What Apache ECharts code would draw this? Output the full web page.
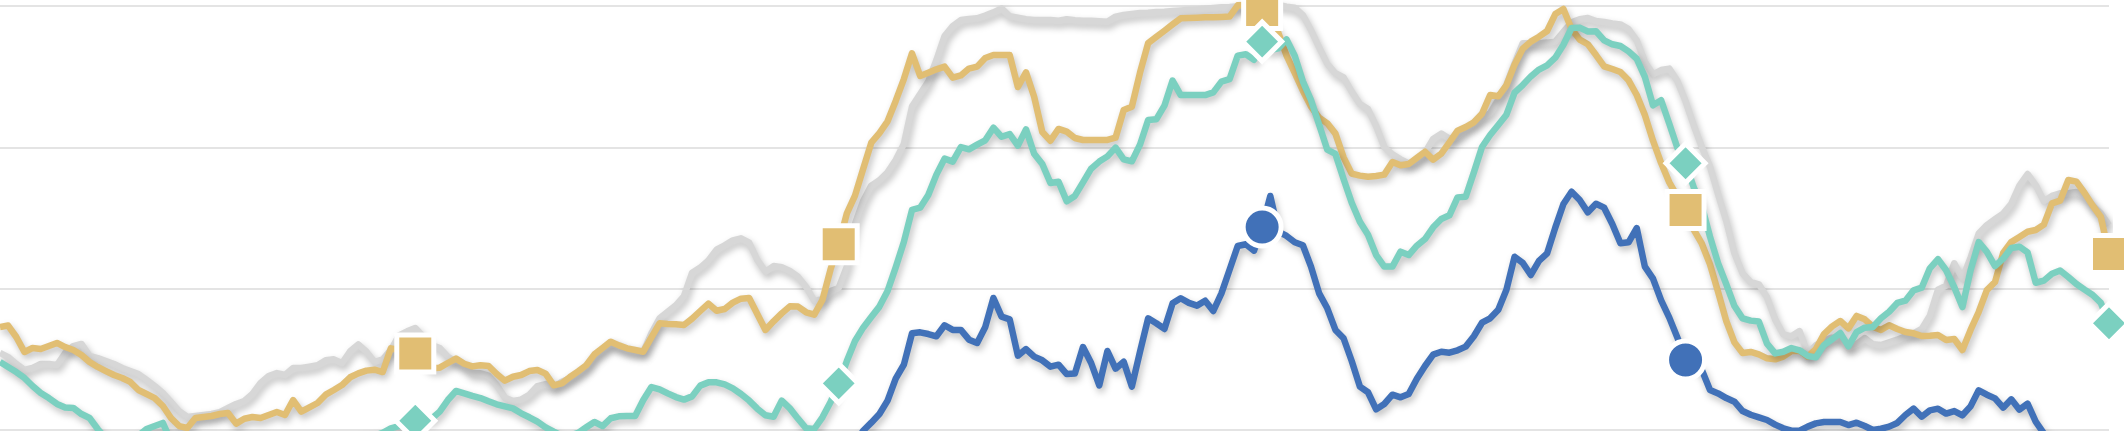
<!DOCTYPE html>
<html>
<head>
<meta charset="utf-8">
<script src="https://cdn.jsdelivr.net/npm/echarts@6/dist/echarts.min.js"></script>
<style>
html,body{margin:0;padding:0;background:#fff;}
#chart{width:2124px;height:431px;}
</style>
</head>
<body>
<div id="chart"></div>
<script>
// 260 weekly periods; markers once every 52 weeks
var categories = [];
for (var k = 0; k < 260; k++) { categories.push('W' + (k + 1)); }
var markerIdx = [51, 103, 155, 207, 259];
var yTicks = [0, 100, 200, 300];

var grey = [54.5,51.6,46.7,42.5,43.9,46.7,46.7,46.0,54.5,59.4,60.9,52.4,50.9,48.8,46.7,43.9,41.7,39.6,35.4,31.1,
26.2,19.8,13.4,9.2,9.9,10.6,11.3,12.7,15.6,18.4,20.5,25.5,33.3,38.2,40.3,38.9,43.9,43.9,44.8,45.8,
49.3,50.0,47.2,55.7,60.6,55.4,48.1,50.0,56.6,67.0,69.8,72.2,66.0,60.1,58.0,51.9,48.3,45.3,40.1,40.1,
38.4,31.8,22.9,20.5,21.5,25.0,31.1,32.5,30.2,34.2,36.6,40.1,44.8,52.4,56.6,61.3,59.0,56.6,55.4,55.4,
68.4,79.0,83.7,88.2,94.8,111.3,114.9,120.0,127.6,130.7,134.2,135.6,132.5,120.3,112.0,116.0,115.1,112.5,108.5,101.2,
91.3,92.5,98.3,100.5,115.6,145.8,162.0,172.9,176.7,182.3,191.0,202.4,228.8,237.7,246.5,261.8,278.8,285.8,290.1,290.8,
291.3,293.2,295.5,298.3,292.7,291.7,290.6,290.1,290.1,290.1,289.6,290.6,289.9,289.6,289.6,289.2,288.9,292.5,293.6,294.3,
295.0,295.3,295.8,296.0,296.5,296.9,297.4,297.6,298.1,298.6,299.1,299.3,299.8,300.0,300.2,300.5,300.7,300.7,299.5,298.8,
293.6,283.0,270.8,259.0,252.4,249.5,239.4,230.7,227.1,215.1,200.2,195.0,191.5,188.7,190.3,196.2,205.9,209.7,206.1,207.5,
213.2,216.7,221.2,224.1,233.7,244.1,259.4,273.6,273.6,273.6,274.1,274.8,281.8,288.4,290.6,291.5,289.4,288.7,287.7,287.0,
283.7,275.7,260.6,251.7,254.7,255.7,246.9,232.5,215.6,200.2,186.3,166.7,147.9,125.0,110.8,104.7,103.1,93.9,78.3,67.7,
66.3,70.0,54.2,59.9,63.4,65.3,64.9,58.0,60.8,65.1,60.6,60.1,62.0,63.9,66.3,68.4,71.5,80.9,99.3,102.1,
118.0,107.0,122.0,139.0,145.0,149.1,153.1,160.1,172.9,181.1,173.3,161.8,165.6,167.5,167.5,168.4,165.1,158.7,153.3,145.0];

var gold = [72.9,73.9,65.8,55.2,58.0,57.3,59.4,61.6,58.7,56.6,53.1,48.1,44.6,41.7,38.9,36.8,34.0,28.3,25.5,22.6,
17.0,8.5,2.8,1.4,8.5,9.2,9.9,11.3,12.0,4.5,8.0,9.2,8.5,10.6,12.7,10.6,21.2,13.0,16.0,19.1,
25.0,28.3,31.8,37.3,40.1,42.0,42.7,41.0,57.8,56.6,55.2,54.2,48.3,43.6,44.1,47.4,50.5,46.9,45.0,45.8,
45.3,39.6,34.9,37.7,38.9,41.7,42.5,39.9,31.6,33.0,37.5,41.5,45.8,53.5,58.0,62.5,59.9,57.8,56.6,55.4,
65.6,75.5,75.0,74.8,74.3,78.8,84.2,89.4,84.4,85.6,90.1,92.9,93.4,82.1,70.8,76.9,82.5,87.5,87.3,83.3,
81.6,92.0,113.7,131.4,153.3,165.8,184.7,203.3,210.1,218.4,232.8,248.3,266.5,250.5,252.8,255.2,257.1,249.3,250.9,255.7,
257.1,263.2,265.3,265.3,265.3,242.7,253.1,235.8,210.8,204.7,213.0,211.1,206.6,205.2,205.2,205.2,205.2,206.8,226.4,228.8,
252.8,273.8,278.1,282.5,287.0,291.3,291.5,291.7,292.0,292.0,292.2,292.5,300.5,300.7,299.1,297.2,290.1,280.9,264.9,252.6,
240.1,228.8,221.0,217.0,209.7,192.9,181.4,180.0,179.2,179.7,180.7,189.6,187.3,188.2,192.5,196.9,191.3,195.5,203.5,211.8,
214.4,217.7,223.8,237.0,236.1,243.9,258.5,269.8,274.8,278.3,282.3,294.3,297.9,283.7,276.2,272.9,265.3,257.3,255.4,253.3,
247.4,237.0,222.9,204.7,188.9,175.2,165.1,155.7,141.7,131.8,117.2,97.6,77.1,62.0,54.5,55.2,53.5,50.7,50.0,51.9,
55.9,56.1,51.9,57.3,67.9,73.3,77.1,71.9,80.7,78.3,73.1,70.8,74.1,71.5,69.3,68.4,66.5,66.7,67.2,63.7,
64.4,56.6,70.8,83.5,99.0,104.7,125.2,133.0,136.6,140.3,141.5,145.3,160.4,162.3,176.9,175.7,167.7,158.7,150.7,124.5];

var teal = [48.1,44.6,41.0,36.8,31.1,26.2,22.6,18.4,15.9,15.6,11.3,8.5,0.7,-6,-10,-12,-9,-4,0.7,2.8,
5.0,-8,-12,-15,-18,-17,-16,-15,-16,-18,-20,-19,-17,-16,-15,-14,-12,-10,-11,-9,
-8,-7,-6,-7,-5,-4,-4,-2,1.2,2.8,4.7,6.6,7.5,8.0,13.0,21.2,27.6,25.9,24.1,22.6,
20.3,18.2,16.7,15.3,11.8,9.0,5.9,1.9,-1.2,-4,-4,-2,1.9,5.7,2.8,8.3,9.7,9.9,9.9,21.2,
30.4,28.8,25.9,23.3,21.5,23.8,31.4,33.7,33.7,32.3,29.5,25.5,20.8,15.1,10.4,9.4,20.8,15.3,8.0,1.2,
0.7,9.0,19.8,33.0,48.8,63.0,72.4,80.0,87.3,98.3,115.1,133.0,155.7,157.3,166.3,180.7,192.0,189.9,200.2,198.6,
201.9,205.0,213.9,207.5,209.4,201.2,212.7,195.5,188.2,174.8,175.7,161.8,165.6,175.2,184.9,189.9,193.6,199.8,191.5,190.1,
201.9,219.3,219.8,229.5,247.2,237.0,237.0,237.0,237.0,238.9,246.5,248.3,264.9,265.8,262.0,274.8,268.9,270.0,276.4,264.9,
246.7,233.5,216.0,198.3,195.3,177.6,160.8,147.4,138.2,123.8,115.6,115.6,126.2,123.8,130.4,135.1,143.4,149.3,151.9,164.6,
165.1,182.3,200.2,208.7,215.8,223.1,238.7,244.1,250.2,255.0,258.0,263.4,272.6,284.4,284.7,282.0,282.1,275.7,272.9,271.7,
267.9,262.7,249.8,229.7,233.3,216.7,199.5,188.7,171.7,158.5,136.8,117.9,103.1,87.7,79.0,77.4,76.7,61.1,54.2,55.4,
58.0,56.4,52.4,51.4,60.1,64.2,68.6,59.2,69.3,72.4,72.9,79.0,83.7,89.9,91.5,98.8,100.7,114.4,120.8,113.0,
101.0,87.0,113.0,133.0,126.0,116.0,121.2,128.8,129.7,125.7,104.2,105.7,110.6,112.9,108.3,103.3,99.3,95.5,89.9,75.5];

var blue = [-30,-32,-35,-34,-36,-38,-37,-40,-42,-41,-45,-47,-50,-52,-55,-56,-58,-60,-62,-61,
-64,-66,-68,-70,-69,-72,-71,-73,-70,-74,-75,-72,-73,-70,-68,-69,-66,-64,-62,-60,
-57,-55,-52,-50,-48,-46,-47,-44,-40,-41,-42,-43,-45,-44,-42,-43,-41,-44,-46,-47,
-50,-52,-51,-54,-53,-55,-56,-58,-60,-59,-57,-55,-54,-52,-50,-51,-48,-49,-47,-45,
-42,-40,-38,-39,-37,-35,-33,-34,-32,-30,-29,-28,-30,-33,-36,-34,-32,-33,-35,-36,
-35,-30,-27,-25,-18,-10,-0.5,5.2,11.3,20.8,36.3,46.2,68.4,69.1,67.9,66.3,74.1,70.8,70.8,63.9,
61.6,72.9,93.4,80.2,78.3,52.6,57.3,51.9,49.3,44.8,46.2,39.6,39.9,58.7,47.4,31.6,55.9,43.4,48.3,30.7,
55.4,79.0,75.5,71.5,89.6,93.2,89.9,88.0,91.5,84.2,96.7,113.4,130.2,131.4,126.9,143.6,165.6,140.3,137.3,132.8,
130.7,115.6,96.7,86.1,70.8,64.9,48.8,30.7,26.7,14.6,18.4,25.0,23.1,25.5,36.3,45.3,53.3,55.4,54.7,56.4,
59.0,66.3,75.9,79.0,85.1,99.3,122.6,118.2,109.7,119.6,125.0,143.2,159.9,168.6,162.7,154.0,160.1,157.3,145.8,132.1,
132.8,142.9,115.6,107.1,91.7,79.5,65.3,49.5,45.3,42.5,28.3,25.9,22.6,20.0,13.4,10.8,9.0,7.1,3.8,1.2,
-0.5,-0.5,2.4,4.7,5.7,5.7,5.7,3.5,5.2,2.8,0.0,0.9,2.4,5.0,10.6,15.1,9.4,13.9,15.1,11.6,
13.4,10.4,16.7,28.1,25.0,22.4,15.8,21.7,14.4,18.6,5.9,-2.4,-5,-8,-10,-12,-14,-15,-17,-18];

var colors = { blue: '#4171B8', teal: '#7BD0C0', gold: '#E1BE73', grey: '#D7D7D7' };

function withMarkers(values, symbol, size) {
  return values.map(function (v, i) {
    if (symbol && markerIdx.indexOf(i) >= 0) {
      return { value: v, symbol: symbol, symbolSize: size };
    }
    return v;
  });
}

function lineSeries(name, values, color, symbol, size) {
  return {
    name: name,
    type: 'line',
    data: withMarkers(values, symbol, size),
    symbol: 'none',
    showSymbol: true,
    showAllSymbol: true,
    smooth: false,
    clip: false,
    lineStyle: {
      color: color, width: 6.5, join: 'round', cap: 'butt',
      shadowColor: 'rgba(0,0,0,0.26)', shadowBlur: 7, shadowOffsetX: 2, shadowOffsetY: 4
    },
    itemStyle: { color: color, borderColor: '#ffffff', borderWidth: 5, opacity: 1 },
    emphasis: { disabled: true },
    z: 2
  };
}

var chart = echarts.init(document.getElementById('chart'), null, { renderer: 'canvas' });
chart.setOption({
  animation: false,
  backgroundColor: '#ffffff',
  grid: { left: 0, right: 15, top: 6, bottom: 1, containLabel: false },
  xAxis: {
    type: 'category',
    data: categories,
    boundaryGap: false,
    axisLine: { show: false },
    axisTick: { show: false },
    axisLabel: { show: false },
    splitLine: { show: false }
  },
  yAxis: {
    type: 'value',
    min: yTicks[0],
    max: yTicks[yTicks.length - 1],
    interval: 100,
    axisLine: { show: false },
    axisTick: { show: false },
    axisLabel: { show: false },
    splitLine: { show: true, lineStyle: { color: '#E4E4E4', width: 2 } }
  },
  series: [
    lineSeries('Grey', grey, colors.grey, null, 0),
    lineSeries('Gold', gold, colors.gold, 'rect', 37),
    lineSeries('Teal', teal, colors.teal, 'diamond', 39),
    lineSeries('Blue', blue, colors.blue, 'circle', 38)
  ]
});
</script>
</body>
</html>
